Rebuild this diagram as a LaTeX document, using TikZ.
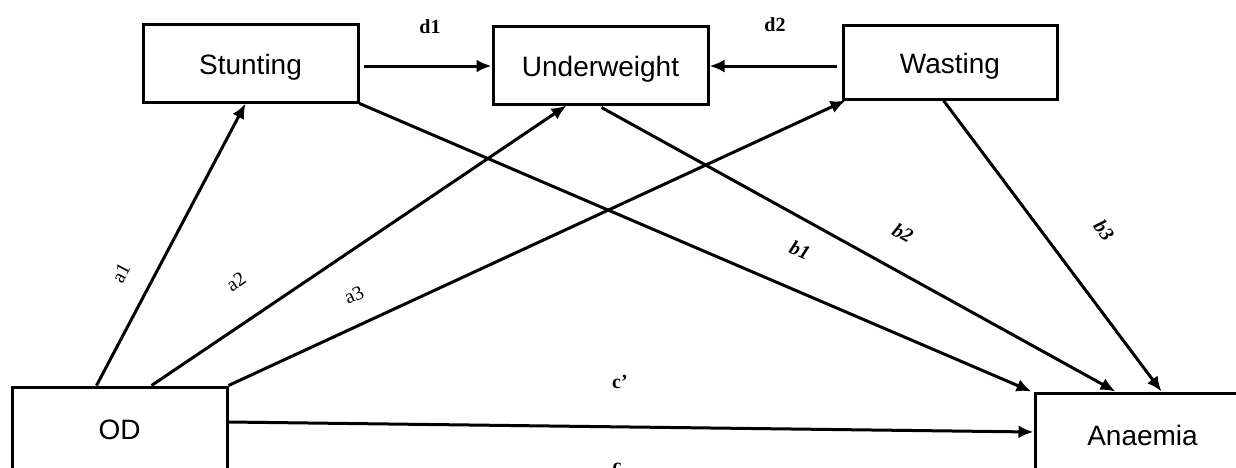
\documentclass[tikz,border=0pt]{standalone}
\usepackage{fontspec}
\setmainfont{Liberation Serif}
\newfontfamily\arialf{Liberation Sans}
\usetikzlibrary{arrows.meta}
\newcommand{\dn}[1]{\raisebox{-11pt}[0pt][0pt]{#1}}
\begin{document}
\begin{tikzpicture}[x=1pt,y=-1pt,
  box/.style={draw,line width=3pt,rectangle,inner sep=0pt,font=\arialf\fontsize{28}{30}\selectfont},
  arr/.style={line width=3pt,-{Latex[length=15pt,width=13pt]}},
  lab/.style={font=\fontsize{20}{22}\selectfont\bfseries,inner sep=1pt},
  labr/.style={font=\fontsize{20}{22}\selectfont,inner sep=1pt},
  labi/.style={font=\fontsize{20}{22}\selectfont\bfseries\itshape,inner sep=1pt}]
\useasboundingbox (0,0) rectangle (1236,467);
\fill[white] (0,0) rectangle (1236,467);
% nodes
\node[box,minimum width=215pt,minimum height=78pt] (stunting) at (250.5,63) {\dn{Stunting}};
\node[box,minimum width=215pt,minimum height=78pt] (under) at (600.5,65) {\dn{Underweight}};
\node[box,minimum width=214pt,minimum height=74pt] (wasting) at (950,62) {\dn{Wasting}};
\node[box,minimum width=215pt,minimum height=86pt] (od) at (119.5,430) {OD};
\node[box,minimum width=215pt,minimum height=84pt] (anaemia) at (1142.5,435) {Anaemia};
% connectors
\draw[arr] ([xshift=4pt,yshift=-3pt]stunting.east) -- ([yshift=-1pt]under.west);
\draw[arr] ([xshift=-5pt,yshift=-4pt]wasting.west) -- ([yshift=-1pt]under.east);
\draw[arr] ([xshift=86pt]od.north west) -- ([xshift=104pt]stunting.south west);
\draw[arr] ([xshift=141pt]od.north west) -- ([xshift=75pt]under.south west);
\draw[arr] (od.north east) -- ([xshift=4pt]wasting.south west);
\draw[arr] (stunting.south east) -- ([xshift=-2pt]anaemia.north west);
\draw[arr] ([xshift=110pt,yshift=-2pt]under.south west) -- ([xshift=82pt]anaemia.north west);
\draw[arr] ([xshift=102pt]wasting.south west) -- ([xshift=128pt]anaemia.north west);
\draw[arr] ([yshift=8pt]od.east) -- ([yshift=3pt]anaemia.west);
% labels
\node[lab] (ld1) at (430,27) {d1};
\node[lab] (ld2) at (775,25) {d2};
\node[labr,rotate=62] (la1) at (121,273) {a1};
\node[labr,rotate=34] (la2) at (236,282) {a2};
\node[labr,rotate=25] (la3) at (354,295) {a3};
\node[labi,rotate=-23] (lb1) at (800,250) {b1};
\node[labi,rotate=-29] (lb2) at (903,233) {b2};
\node[labi,rotate=-53] (lb3) at (1104,230) {b3};
\node[lab] (lcp) at (620,382) {c'};
\node[lab] (lc) at (617,468) {c};
\end{tikzpicture}
\end{document}
